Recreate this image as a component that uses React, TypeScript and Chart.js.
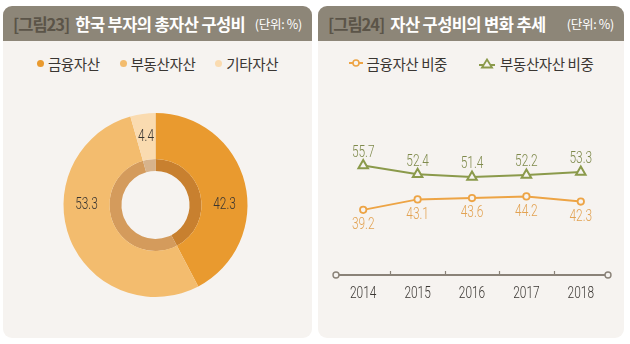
import React, { useEffect, useRef } from "react";
import { Chart, registerables } from "chart.js";

Chart.register(...registerables);

// ---------- data ----------
const assetLabels = ["금융자산", "부동산자산", "기타자산"];
const assetShares = [42.3, 53.3, 4.4];

const years = ["2014", "2015", "2016", "2017", "2018"];
const financialShare = [39.2, 43.1, 43.6, 44.2, 42.3];
const realEstateShare = [55.7, 52.4, 51.4, 52.2, 53.3];
const trendLabels = ["금융자산 비중", "부동산자산 비중"];

// ---------- styles ----------
const KR_FONT = "'Noto Sans CJK KR', 'Noto Sans', sans-serif";
const NUM_FONT = "300 17px Roboto, 'DejaVu Sans', sans-serif";
const NUM_SCALE = 0.7;
const PANEL_BG = "#f6f3f0";
const HEADER_BG = "#8d8678";
const HEADER_NUM = "#5b5448";
const TEXT = "#3a3632";
const outerColors = ["#e99a2f", "#f3bc6e", "#fadbb0"];
const innerColors = ["#c8802f", "#d49b5c", "#d7b38c"];
const ORANGE = "#eda445";
const GREEN = "#8b9a4b";
const ORANGE_TEXT = "#e2a252";
const GREEN_TEXT = "#7f8a4c";
const AXIS = "#8a8278";

function drawNarrow(ctx: CanvasRenderingContext2D, text: string, x: number, y: number) {
  ctx.save();
  ctx.translate(x, y);
  ctx.scale(NUM_SCALE, 1);
  ctx.font = NUM_FONT;
  ctx.textAlign = "center";
  ctx.textBaseline = "middle";
  ctx.fillText(text, 0, 0);
  ctx.restore();
}

const doughnutLabelPlugin = {
  id: "doughnutLabels",
  afterDatasetsDraw(chart: any) {
    const meta = chart.getDatasetMeta(0);
    const values = chart.data.datasets[0].data as number[];
    const ctx = chart.ctx;
    ctx.save();
    ctx.fillStyle = TEXT;
    meta.data.forEach((arc: any, i: number) => {
      const p = arc.getProps(["x", "y", "startAngle", "endAngle", "innerRadius", "outerRadius"], true);
      let ang = (p.startAngle + p.endAngle) / 2;
      for (const a of [0, Math.PI]) {
        if (a > p.startAngle && a < p.endAngle) ang = a;
      }
      const r = (p.innerRadius + p.outerRadius) / 2;
      drawNarrow(ctx, values[i].toFixed(1), p.x + r * Math.cos(ang), p.y + r * Math.sin(ang));
    });
    ctx.restore();
  },
};

const axisPlugin = {
  id: "axisLine",
  beforeDatasetsDraw(chart: any) {
    const { ctx, chartArea } = chart;
    const xs = chart.scales.x;
    const y = chartArea.bottom;
    const labels = chart.data.labels as string[];
    const n = labels.length;
    ctx.save();
    ctx.strokeStyle = AXIS;
    ctx.lineWidth = 2;
    ctx.beginPath();
    ctx.moveTo(chartArea.left, y);
    ctx.lineTo(chartArea.right, y);
    ctx.stroke();
    ctx.lineWidth = 1.2;
    for (let i = 1; i < n; i++) {
      const x = Math.round((xs.getPixelForValue(i - 1) + xs.getPixelForValue(i)) / 2) + 0.5;
      ctx.beginPath();
      ctx.moveTo(x, y - 4);
      ctx.lineTo(x, y);
      ctx.stroke();
    }
    ctx.lineWidth = 1.4;
    for (const x of [chartArea.left, chartArea.right]) {
      ctx.beginPath();
      ctx.arc(x, y, 3, 0, Math.PI * 2);
      ctx.fillStyle = PANEL_BG;
      ctx.fill();
      ctx.stroke();
    }
    // category labels (narrow)
    ctx.fillStyle = TEXT;
    labels.forEach((l, i) => drawNarrow(ctx, l, xs.getPixelForValue(i), y + 19));
    ctx.restore();
  },
};

const valueLabelPlugin = {
  id: "valueLabels",
  afterDatasetsDraw(chart: any) {
    const ctx = chart.ctx;
    ctx.save();
    chart.data.datasets.forEach((ds: any, di: number) => {
      const meta = chart.getDatasetMeta(di);
      const above = di === 1;
      ctx.fillStyle = above ? GREEN_TEXT : ORANGE_TEXT;
      meta.data.forEach((pt: any, i: number) => {
        drawNarrow(ctx, (ds.data[i] as number).toFixed(1), pt.x, pt.y + (above ? -13 : 15));
      });
    });
    ctx.restore();
  },
};

function DoughnutChart() {
  const ref = useRef<HTMLCanvasElement | null>(null);
  useEffect(() => {
    if (!ref.current) return;
    const chart = new Chart(ref.current, {
      type: "doughnut",
      data: {
        labels: assetLabels,
        datasets: [
          { data: assetShares, backgroundColor: outerColors, borderWidth: 0, weight: 46 } as any,
          { data: assetShares, backgroundColor: innerColors, borderWidth: 0, weight: 12 } as any,
        ],
      },
      options: {
        animation: false,
        responsive: false,
        events: [],
        cutout: "37%",
        layout: { padding: { left: 31, right: 35, top: 33, bottom: 33 } },
        plugins: { legend: { display: false }, tooltip: { enabled: false } },
      } as any,
      plugins: [doughnutLabelPlugin],
    });
    return () => chart.destroy();
  }, []);
  return <canvas ref={ref} width={309} height={250} style={{ position: "absolute", left: 0, top: 74 }} />;
}

function LineChart() {
  const ref = useRef<HTMLCanvasElement | null>(null);
  useEffect(() => {
    if (!ref.current) return;
    const chart = new Chart(ref.current, {
      type: "line",
      data: {
        labels: years,
        datasets: [
          {
            label: trendLabels[0],
            data: financialShare,
            borderColor: ORANGE,
            borderWidth: 2,
            pointStyle: "circle",
            pointRadius: 3.2,
            pointBorderWidth: 1.8,
            pointBackgroundColor: PANEL_BG,
            pointBorderColor: ORANGE,
            tension: 0,
          },
          {
            label: trendLabels[1],
            data: realEstateShare,
            borderColor: GREEN,
            borderWidth: 2,
            pointStyle: "triangle",
            pointRadius: 5.5,
            pointBorderWidth: 2,
            pointBackgroundColor: PANEL_BG,
            pointBorderColor: GREEN,
            tension: 0,
          },
        ],
      },
      options: {
        animation: false,
        responsive: false,
        events: [],
        layout: { padding: { left: 18, right: 16, top: 12, bottom: 63 } },
        plugins: { legend: { display: false }, tooltip: { enabled: false } },
        scales: {
          x: {
            offset: true,
            grid: { display: false, drawTicks: false },
            border: { display: false },
            ticks: { display: false },
          },
          y: { display: false, min: 15, max: 83 },
        },
      } as any,
      plugins: [axisPlugin, valueLabelPlugin],
    });
    return () => chart.destroy();
  }, []);
  return <canvas ref={ref} width={306} height={258} style={{ position: "absolute", left: 0, top: 74 }} />;
}

function Panel(props: { left: number; width: number; num: string; title: string; children: any }) {
  return (
    <div
      style={{
        position: "absolute",
        left: props.left,
        top: 6,
        width: props.width,
        height: 332,
        background: PANEL_BG,
        borderRadius: 9,
        overflow: "hidden",
      }}
    >
      <div
        style={{
          position: "absolute",
          left: 0,
          top: 0,
          width: "100%",
          height: 35,
          background: HEADER_BG,
          display: "flex",
          alignItems: "center",
          boxSizing: "border-box",
          paddingLeft: 10,
          paddingRight: 10,
          fontFamily: KR_FONT,
          whiteSpace: "nowrap",
        }}
      >
        <span style={{ color: HEADER_NUM, fontSize: 16.5, fontWeight: 600, letterSpacing: -1 }}>{props.num}</span>
        <span style={{ color: "#ffffff", fontSize: 16.5, fontWeight: 600, letterSpacing: -0.6, marginLeft: 6 }}>{props.title}</span>
        <span style={{ color: "#ffffff", fontSize: 12.5, marginLeft: "auto", letterSpacing: -0.3 }}>(단위: %)</span>
      </div>
      {props.children}
    </div>
  );
}

function LegendRow(props: { children: any; gap: number }) {
  return (
    <div
      style={{
        position: "absolute",
        left: 0,
        top: 47,
        width: "100%",
        height: 20,
        display: "flex",
        justifyContent: "center",
        alignItems: "center",
        gap: props.gap,
        fontFamily: KR_FONT,
        fontSize: 14.5,
        letterSpacing: -0.4,
        color: TEXT,
        whiteSpace: "nowrap",
      }}
    >
      {props.children}
    </div>
  );
}

export default function App() {
  return (
    <div style={{ position: "fixed", left: 0, top: 0, width: 630, height: 344, background: "#ffffff", overflow: "hidden" }}>
      <Panel left={3} width={309} num="[그림23]" title="한국 부자의 총자산 구성비">
        <LegendRow gap={20}>
          {assetLabels.map((l, i) => (
            <span key={l} style={{ display: "flex", alignItems: "center" }}>
              <span style={{ width: 7, height: 7, borderRadius: 4, background: outerColors[i], marginRight: 4 }} />
              <span>{l}</span>
            </span>
          ))}
        </LegendRow>
        <DoughnutChart />
      </Panel>
      <Panel left={318} width={306} num="[그림24]" title="자산 구성비의 변화 추세">
        <LegendRow gap={32}>
          <span style={{ display: "flex", alignItems: "center" }}>
            <svg width={14} height={10} style={{ marginRight: 4 }}>
              <line x1={0} y1={5} x2={14} y2={5} stroke={ORANGE} strokeWidth={2} />
              <circle cx={7} cy={5} r={3} fill={PANEL_BG} stroke={ORANGE} strokeWidth={1.6} />
            </svg>
            <span>{trendLabels[0]}</span>
          </span>
          <span style={{ display: "flex", alignItems: "center" }}>
            <svg width={16} height={12} style={{ marginRight: 5 }}>
              <line x1={0} y1={8} x2={16} y2={8} stroke={GREEN} strokeWidth={2} />
              <polygon points="8,2.5 13,10.5 3,10.5" fill={PANEL_BG} stroke={GREEN} strokeWidth={1.8} />
            </svg>
            <span>{trendLabels[1]}</span>
          </span>
        </LegendRow>
        <LineChart />
      </Panel>
    </div>
  );
}
